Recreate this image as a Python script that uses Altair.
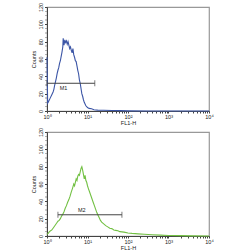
import altair as alt
import pandas as pd

# ---- data (x in decades of FL1-H, y in counts) ----
top_dec = [0.00, 0.016, 0.03, 0.05, 0.07, 0.09, 0.11, 0.13, 0.15, 0.17, 0.19, 0.21, 0.23, 0.25,
           0.27, 0.29, 0.31, 0.33, 0.35, 0.37, 0.39, 0.40, 0.42, 0.44, 0.46, 0.48, 0.50, 0.52,
           0.54, 0.56, 0.58, 0.60, 0.62, 0.64, 0.66, 0.68, 0.70, 0.72, 0.74, 0.76, 0.78, 0.80,
           0.82, 0.84, 0.86, 0.88, 0.90, 0.92, 0.94, 0.96, 0.98, 1.00, 1.04, 1.10, 1.16, 1.25,
           1.40, 1.60, 1.80, 2.00, 2.50, 3.00, 4.00]
top_cnt = [62, 9, 10, 12, 14, 16, 18, 20, 22, 25, 30, 34, 38, 43,
           47, 50, 55, 58, 63, 68, 74, 84, 76, 82, 79, 81, 77, 80,
           76, 72, 74, 70, 67, 72, 65, 62, 58, 57, 52, 47, 43, 36,
           32, 26, 20, 17, 13, 10, 8, 6, 5, 4, 3, 2.5, 1.5, 1,
           0.8, 0.5, 0.4, 0.2, 0, 0, 0]

bot_dec = [0.00, 0.03, 0.06, 0.09, 0.12, 0.15, 0.18, 0.21, 0.24, 0.27, 0.30, 0.33, 0.36, 0.39,
           0.42, 0.45, 0.48, 0.51, 0.54, 0.57, 0.60, 0.63, 0.66, 0.68, 0.70, 0.72, 0.74, 0.76,
           0.78, 0.80, 0.82, 0.84, 0.86, 0.88, 0.90, 0.92, 0.94, 0.96, 0.98, 1.00, 1.02, 1.05,
           1.08, 1.11, 1.14, 1.17, 1.20, 1.23, 1.26, 1.29, 1.32, 1.35, 1.40, 1.45, 1.50, 1.55,
           1.60, 1.65, 1.70, 1.75, 1.80, 1.90, 2.00, 2.10, 2.25, 2.40, 2.60, 2.80, 3.00, 3.30,
           3.60, 4.00]
bot_cnt = [2, 3, 5, 6, 7, 9, 11, 13, 15, 17, 18, 20, 23, 25,
           28, 32, 35, 39, 42, 46, 51, 55, 60, 58, 62, 66, 64, 69,
           71, 70, 74, 78, 80, 76, 71, 66, 70, 64, 62, 58, 55, 51,
           47, 43, 39, 35, 31, 27, 24, 21, 18, 16, 14, 12, 10.5, 9,
           8.5, 7, 6.5, 6, 5, 4.5, 3.5, 3, 2.5, 2, 1.5, 1, 0.6, 0.4,
           0.2, 0]

# markers: name, start decade, end decade, level (counts), label position
marker_names = ["M1", "M2"]
marker_start = [0.0, 0.27]
marker_end = [1.18, 1.85]
marker_level = [32, 24.5]
marker_label_dec = [0.41, 0.86]
marker_label_cnt = [26, 29.5]

colors = ["#3b55a6", "#72c043"]

x_ticks = [m * 10 ** d for d in range(4) for m in range(1, 10)] + [10000]
y_major = [0, 20, 40, 60, 80, 100, 120]
y_minor = [v for v in range(0, 121, 5) if v % 20]

FS = 5.5
FONT = "Liberation Sans"

xs = alt.Scale(type="log", domain=[1, 10000])
ys = alt.Scale(domain=[0, 120])
xaxis = alt.Axis(values=x_ticks, title="FL1-H", grid=False, tickSize=2,
                 labelExpr="datum.value==1?'10⁰':datum.value==10?'10¹':datum.value==100?'10²':datum.value==1000?'10³':datum.value==10000?'10⁴':''",
                 labelFontSize=FS, titleFontSize=FS, labelFont=FONT, titleFont=FONT,
                 titleFontWeight="normal", labelPadding=1, titlePadding=1,
                 domainColor="#444", tickColor="#444", labelColor="#222", titleColor="#222",
                 labelFlush=False, labelOverlap=False)
yaxis = alt.Axis(values=y_major, title="Counts", grid=False, tickSize=2.5,
                 labelAngle=270, labelAlign="center", labelBaseline="bottom",
                 labelFontSize=FS, titleFontSize=FS, labelFont=FONT, titleFont=FONT,
                 titleFontWeight="normal", labelPadding=1, titlePadding=2,
                 domainColor="#444", tickColor="#444", labelColor="#222", titleColor="#222",
                 labelFlush=False, labelOverlap=False)


def panel(decs, cnts, idx):
    df = pd.DataFrame({"FL1": [10 ** d for d in decs], "count": cnts})
    mk = pd.DataFrame({
        "x1": [10 ** marker_start[idx]], "x2": [10 ** marker_end[idx]],
        "lvl": [marker_level[idx]], "name": [marker_names[idx]],
        "lx": [10 ** marker_label_dec[idx]], "ly": [marker_label_cnt[idx]],
    })
    minor = pd.DataFrame({"v": y_minor})
    line = alt.Chart(df).mark_line(color=colors[idx], strokeWidth=1.1).encode(
        x=alt.X("FL1:Q", scale=xs, axis=xaxis),
        y=alt.Y("count:Q", scale=ys, axis=yaxis),
    )
    ticks = alt.Chart(minor).mark_tick(color="#444", orient="horizontal", size=1.5,
                                       thickness=0.8, xOffset=-1).encode(
        x=alt.value(0), y=alt.Y("v:Q", scale=ys, axis=yaxis))
    bar = alt.Chart(mk).mark_rule(color="#444", strokeWidth=1).encode(
        x=alt.X("x1:Q", scale=xs, axis=xaxis), x2="x2:Q", y=alt.Y("lvl:Q", scale=ys, axis=yaxis))
    cap1 = alt.Chart(mk).mark_tick(color="#444", orient="vertical", size=6, thickness=1).encode(
        x=alt.X("x1:Q", scale=xs, axis=xaxis), y=alt.Y("lvl:Q", scale=ys, axis=yaxis))
    cap2 = alt.Chart(mk).mark_tick(color="#444", orient="vertical", size=6, thickness=1).encode(
        x=alt.X("x2:Q", scale=xs, axis=xaxis), y=alt.Y("lvl:Q", scale=ys, axis=yaxis))
    lab = alt.Chart(mk).mark_text(fontSize=FS, font=FONT, color="#222").encode(
        x=alt.X("lx:Q", scale=xs, axis=xaxis), y=alt.Y("ly:Q", scale=ys, axis=yaxis), text="name:N")
    return alt.layer(line, ticks, bar, cap1, cap2, lab).properties(width=162, height=104)


chart = alt.vconcat(
    panel(top_dec, top_cnt, 0),
    panel(bot_dec, bot_cnt, 1),
    spacing=21, bounds="flush",
).properties(
    padding={"left": 30, "top": 1, "right": 0, "bottom": 0},
    background="white",
).configure_view(stroke="#999", strokeWidth=1.2)

chart.save("out.html", embed_options={"renderer": "svg", "actions": False})
